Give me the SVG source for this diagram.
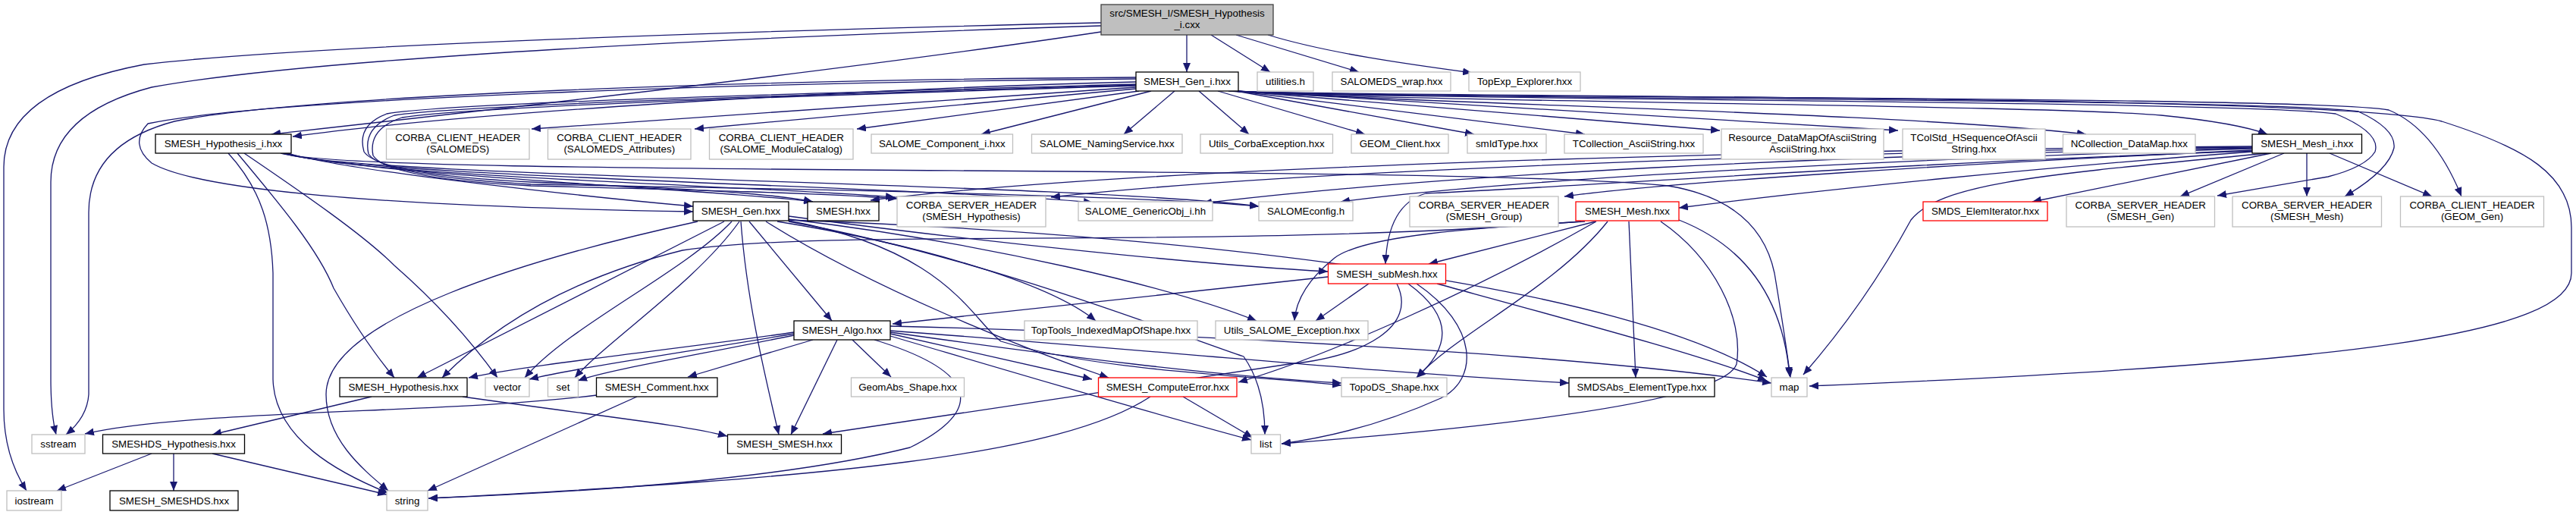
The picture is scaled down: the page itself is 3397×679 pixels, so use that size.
<svg xmlns="http://www.w3.org/2000/svg" width="3397" height="679" viewBox="0 0 3397 679">
<defs>
<marker id="arr" markerUnits="userSpaceOnUse" markerWidth="12" markerHeight="10" refX="12" refY="5" orient="auto"><path d="M0,0 L12,5 L0,10 z" fill="#191970"/></marker>
<style>
rect{stroke-width:1.3}
.doc rect{fill:#fff;stroke:#000}
.ext rect{fill:#fff;stroke:#bfbfbf}
.tr rect{fill:#fff;stroke:#ff0000}
.root rect{fill:#bfbfbf;stroke:#404040}
text{font-family:"Liberation Sans",Arial,sans-serif;font-size:13.33px;text-anchor:middle;fill:#000}
#edges path{fill:none;stroke:#191970;stroke-width:1.3;marker-end:url(#arr)}
</style>
</defs>
<rect width="3397" height="679" fill="#fff"/>
<g id="edges">
<path d="M1565,46 L1565,95"/>
<path d="M1597,46 L1675,95"/>
<path d="M1630,46 L1792,95"/>
<path d="M1672,46 C1750,70 1860,85 1941,96"/>
<path d="M1452,42 C1100,95 600,150 358,177"/>
<path d="M1452,30 C1000,40 400,60 190,85 Q5,120 5,220 L5,540 Q5,600 35,647"/>
<path d="M1452,34 C1000,48 420,75 200,115 Q67,150 67,240 L67,500 Q67,545 74,573"/>
<path d="M1498,108 C1100,118 600,150 386,180"/>
<path d="M1498,115 L701,170"/>
<path d="M1498,117 L916,170"/>
<path d="M1502,120 L1130,170"/>
<path d="M1518,120 L1294,177"/>
<path d="M1549,120 L1482,177"/>
<path d="M1581,120 L1647,177"/>
<path d="M1606,120 L1800,177"/>
<path d="M1630,120 L1944,177"/>
<path d="M1630,120 L2090,177"/>
<path d="M1630,120 L2268,172"/>
<path d="M1630,120 L2503,172"/>
<path d="M1630,120 C1900,138 2500,148 2751,177"/>
<path d="M1628,120 C1800,134 2700,138 2850,152 Q2950,162 2990,177"/>
<path d="M1626,120 C1800,132 2950,132 3080,150 Q3140,175 3132,200 Q3120,220 3070,233 L2924,258"/>
<path d="M1624,120 C1800,131 3000,129 3110,147 Q3160,170 3157,195 Q3150,225 3092,259"/>
<path d="M1622,120 C1800,130 3050,126 3150,145 Q3210,170 3246,259"/>
<path d="M1620,120 C1800,129 3080,123 3220,160 C3330,195 3391,230 3391,300 L3391,360 C3391,440 3100,480 2386,509"/>
<path d="M1498,102 C1000,105 400,125 230,160 Q117,190 117,280 L117,520 Q115,550 87,573"/>
<path d="M1498,104 C1000,108 350,130 195,163 Q170,190 200,215 C260,250 500,272 914,279"/>
<path d="M1498,111 C1100,122 600,135 510,150 Q470,165 480,200 Q500,230 700,240 C900,248 1020,255 1072,266"/>
<path d="M1498,113 C1100,125 620,140 530,155 Q485,170 492,205 Q510,235 700,245 C900,250 1100,255 1183,262"/>
<path d="M1498,112 C1100,124 610,138 520,152 Q478,168 486,203 Q505,232 700,243 C1100,250 1500,258 1660,272"/>
<path d="M380,202 C450,225 800,262 914,272"/>
<path d="M378,202 C470,230 950,250 1072,266"/>
<path d="M376,202 C470,232 1000,245 1180,260"/>
<path d="M374,202 C470,233 1200,245 1441,267"/>
<path d="M372,202 C470,234 1400,240 1660,272"/>
<path d="M370,202 C480,235 1900,215 2200,245 Q2320,265 2340,360 Q2355,450 2361,498"/>
<path d="M301,202 C345,250 358,300 360,360 L360,500 C362,580 450,625 512,650"/>
<path d="M313,202 C370,270 420,330 440,380 Q480,450 520,498"/>
<path d="M322,202 C400,255 480,310 520,350 Q600,420 656,498"/>
<path d="M2995,202 L2680,266"/>
<path d="M3012,202 L2875,259"/>
<path d="M3042,202 L3042,259"/>
<path d="M3072,202 L3207,259"/>
<path d="M2970,200 C2700,220 2400,250 2214,274"/>
<path d="M2970,198 C2600,215 2200,240 2063,259"/>
<path d="M2970,196 C2500,210 2000,235 1768,266"/>
<path d="M2970,195 C2400,205 1900,230 1586,268"/>
<path d="M2970,194 C2400,200 1700,225 1386,260"/>
<path d="M2970,193 C2300,198 1500,220 1148,264"/>
<path d="M2970,199 C2500,215 2100,245 1880,255 Q1830,270 1827,348"/>
<path d="M2990,202 C2700,230 2560,240 2520,290 Q2460,400 2378,494"/>
<path d="M2104,292 L1884,348"/>
<path d="M2090,292 C1950,300 1800,310 1760,340 Q1710,380 1707,423"/>
<path d="M2148,292 L2157,498"/>
<path d="M2214,290 C2290,320 2350,380 2360,496"/>
<path d="M2190,292 C2260,340 2300,420 2290,480 Q2270,540 1690,585"/>
<path d="M2120,292 C2050,380 1920,440 1868,498"/>
<path d="M2105,292 C1950,380 1750,470 1633,504"/>
<path d="M2085,292 C1600,330 1100,300 900,330 Q700,380 583,498"/>
<path d="M1805,374 L1735,423"/>
<path d="M1857,374 C1920,420 1910,460 1868,498"/>
<path d="M1868,374 C1950,430 1950,500 1900,525 Q1800,570 1690,585"/>
<path d="M1842,374 C1870,430 1800,470 1700,480 L1085,572"/>
<path d="M1895,374 C2100,430 2250,470 2330,502"/>
<path d="M1751,365 L1177,427"/>
<path d="M1072,448 L907,497"/>
<path d="M1104,448 L1043,573"/>
<path d="M1124,448 L1175,497"/>
<path d="M1153,448 C1290,490 1300,540 1200,590 Q1000,640 565,657"/>
<path d="M1174,440 L1440,500"/>
<path d="M1174,443 C1300,480 1500,540 1650,580"/>
<path d="M1174,436 C1500,460 1800,490 2069,505"/>
<path d="M1174,430 C1600,440 2100,470 2336,505"/>
<path d="M1174,438 C1400,470 1600,495 1769,505"/>
<path d="M1047,438 C900,460 700,480 618,498"/>
<path d="M1047,440 C900,465 760,485 698,500"/>
<path d="M1047,442 C920,468 800,488 762,502"/>
<path d="M977,292 C985,400 1010,500 1027,573"/>
<path d="M988,292 L1097,423"/>
<path d="M955,292 L550,498"/>
<path d="M965,292 C900,360 750,430 692,498"/>
<path d="M975,292 C920,370 800,450 758,498"/>
<path d="M920,292 C700,340 430,420 430,520 C430,580 480,620 512,647"/>
<path d="M1040,285 C1300,320 1600,350 1751,358"/>
<path d="M1040,289 C1300,320 1550,380 1657,423"/>
<path d="M1025,292 C1200,320 1380,370 1445,423"/>
<path d="M1010,292 C1150,380 1350,460 1462,498"/>
<path d="M1040,291 C1250,330 1280,420 1320,450 C1450,490 1650,495 1769,508"/>
<path d="M1040,290 C1600,310 2150,380 2330,497"/>
<path d="M1040,292 C1300,340 1550,440 1640,470 Q1668,510 1668,573"/>
<path d="M490,523 L280,573"/>
<path d="M610,523 C800,550 900,560 959,575"/>
<path d="M787,521 C600,545 250,540 112,572"/>
<path d="M840,523 L564,647"/>
<path d="M200,598 L75,647"/>
<path d="M229,598 L229,647"/>
<path d="M280,598 L510,652"/>
<path d="M1560,523 L1652,577"/>
<path d="M1517,523 C1400,600 1100,630 565,657"/>
</g>
<g id="n0" class="root"><rect x="1452" y="6" width="227" height="40"/><text x="1565.5" y="22">src/SMESH_I/SMESH_Hypothesis</text><text x="1565.5" y="37">_i.cxx</text></g>
<g id="n1" class="doc"><rect x="1498" y="95" width="135" height="25"/><text x="1565.5" y="112">SMESH_Gen_i.hxx</text></g>
<g id="n2" class="ext"><rect x="1658" y="95" width="74" height="25"/><text x="1695" y="112">utilities.h</text></g>
<g id="n3" class="ext"><rect x="1757" y="95" width="156" height="25"/><text x="1835" y="112">SALOMEDS_wrap.hxx</text></g>
<g id="n4" class="ext"><rect x="1937" y="95" width="147" height="25"/><text x="2010.5" y="112">TopExp_Explorer.hxx</text></g>
<g id="n5" class="doc"><rect x="205" y="177" width="179" height="25"/><text x="294.5" y="194">SMESH_Hypothesis_i.hxx</text></g>
<g id="n6" class="ext"><rect x="509.5" y="170" width="188.5" height="40"/><text x="603.75" y="186">CORBA_CLIENT_HEADER</text><text x="603.75" y="201">(SALOMEDS)</text></g>
<g id="n7" class="ext"><rect x="722.5" y="170" width="188.5" height="40"/><text x="816.75" y="186">CORBA_CLIENT_HEADER</text><text x="816.75" y="201">(SALOMEDS_Attributes)</text></g>
<g id="n8" class="ext"><rect x="935.5" y="170" width="189.5" height="40"/><text x="1030.25" y="186">CORBA_CLIENT_HEADER</text><text x="1030.25" y="201">(SALOME_ModuleCatalog)</text></g>
<g id="n9" class="ext"><rect x="1149" y="177" width="186.5" height="25"/><text x="1242.25" y="194">SALOME_Component_i.hxx</text></g>
<g id="n10" class="ext"><rect x="1360.5" y="177" width="198.5" height="25"/><text x="1459.75" y="194">SALOME_NamingService.hxx</text></g>
<g id="n11" class="ext"><rect x="1583" y="177" width="174.5" height="25"/><text x="1670.25" y="194">Utils_CorbaException.hxx</text></g>
<g id="n12" class="ext"><rect x="1782" y="177" width="128" height="25"/><text x="1846" y="194">GEOM_Client.hxx</text></g>
<g id="n13" class="ext"><rect x="1935" y="177" width="104" height="25"/><text x="1987" y="194">smIdType.hxx</text></g>
<g id="n14" class="ext"><rect x="2063" y="177" width="183" height="25"/><text x="2154.5" y="194">TCollection_AsciiString.hxx</text></g>
<g id="n15" class="ext"><rect x="2270" y="170" width="214" height="40"/><text x="2377" y="186">Resource_DataMapOfAsciiString</text><text x="2377" y="201">AsciiString.hxx</text></g>
<g id="n16" class="ext"><rect x="2509" y="170" width="188" height="40"/><text x="2603" y="186">TColStd_HSequenceOfAscii</text><text x="2603" y="201">String.hxx</text></g>
<g id="n17" class="ext"><rect x="2720.5" y="177" width="174.5" height="25"/><text x="2807.75" y="194">NCollection_DataMap.hxx</text></g>
<g id="n18" class="doc"><rect x="2970" y="177" width="144.5" height="25"/><text x="3042.25" y="194">SMESH_Mesh_i.hxx</text></g>
<g id="n19" class="doc"><rect x="914" y="266" width="126" height="25"/><text x="977" y="283">SMESH_Gen.hxx</text></g>
<g id="n20" class="doc"><rect x="1065" y="266" width="94" height="25"/><text x="1112" y="283">SMESH.hxx</text></g>
<g id="n21" class="ext"><rect x="1183" y="259" width="196" height="40"/><text x="1281" y="275">CORBA_SERVER_HEADER</text><text x="1281" y="290">(SMESH_Hypothesis)</text></g>
<g id="n22" class="ext"><rect x="1422" y="266" width="177" height="25"/><text x="1510.5" y="283">SALOME_GenericObj_i.hh</text></g>
<g id="n23" class="ext"><rect x="1660" y="266" width="124" height="25"/><text x="1722" y="283">SALOMEconfig.h</text></g>
<g id="n24" class="ext"><rect x="1859" y="259" width="196" height="40"/><text x="1957" y="275">CORBA_SERVER_HEADER</text><text x="1957" y="290">(SMESH_Group)</text></g>
<g id="n25" class="tr"><rect x="2078" y="266" width="136" height="25"/><text x="2146" y="283">SMESH_Mesh.hxx</text></g>
<g id="n26" class="tr"><rect x="2536" y="266" width="164" height="25"/><text x="2618" y="283">SMDS_ElemIterator.hxx</text></g>
<g id="n27" class="ext"><rect x="2725" y="259" width="195.5" height="40"/><text x="2822.75" y="275">CORBA_SERVER_HEADER</text><text x="2822.75" y="290">(SMESH_Gen)</text></g>
<g id="n28" class="ext"><rect x="2944" y="259" width="196.5" height="40"/><text x="3042.25" y="275">CORBA_SERVER_HEADER</text><text x="3042.25" y="290">(SMESH_Mesh)</text></g>
<g id="n29" class="ext"><rect x="3165.5" y="259" width="189" height="40"/><text x="3260" y="275">CORBA_CLIENT_HEADER</text><text x="3260" y="290">(GEOM_Gen)</text></g>
<g id="n30" class="tr"><rect x="1751.5" y="348" width="155" height="26"/><text x="1829" y="366">SMESH_subMesh.hxx</text></g>
<g id="n31" class="doc"><rect x="1047" y="423" width="127" height="25"/><text x="1110.5" y="440">SMESH_Algo.hxx</text></g>
<g id="n32" class="ext"><rect x="1351" y="423" width="228" height="25"/><text x="1465" y="440">TopTools_IndexedMapOfShape.hxx</text></g>
<g id="n33" class="ext"><rect x="1603" y="423" width="201" height="25"/><text x="1703.5" y="440">Utils_SALOME_Exception.hxx</text></g>
<g id="n34" class="doc"><rect x="448" y="498" width="168" height="25"/><text x="532" y="515">SMESH_Hypothesis.hxx</text></g>
<g id="n35" class="ext"><rect x="640" y="498" width="58" height="25"/><text x="669" y="515">vector</text></g>
<g id="n36" class="ext"><rect x="722.5" y="498" width="40" height="25"/><text x="742.5" y="515">set</text></g>
<g id="n37" class="doc"><rect x="786.5" y="498" width="159.5" height="25"/><text x="866.25" y="515">SMESH_Comment.hxx</text></g>
<g id="n38" class="ext"><rect x="1122.5" y="498" width="149" height="25"/><text x="1197" y="515">GeomAbs_Shape.hxx</text></g>
<g id="n39" class="tr"><rect x="1448.5" y="498" width="182.5" height="25"/><text x="1539.75" y="515">SMESH_ComputeError.hxx</text></g>
<g id="n40" class="ext"><rect x="1769" y="498" width="139" height="25"/><text x="1838.5" y="515">TopoDS_Shape.hxx</text></g>
<g id="n41" class="doc"><rect x="2069" y="498" width="192" height="25"/><text x="2165" y="515">SMDSAbs_ElementType.hxx</text></g>
<g id="n42" class="ext"><rect x="2336" y="498" width="47" height="25"/><text x="2359.5" y="515">map</text></g>
<g id="n43" class="ext"><rect x="42" y="573" width="70" height="25"/><text x="77" y="590">sstream</text></g>
<g id="n44" class="doc"><rect x="135.5" y="573" width="187" height="25"/><text x="229" y="590">SMESHDS_Hypothesis.hxx</text></g>
<g id="n45" class="doc"><rect x="959.5" y="573" width="150" height="25"/><text x="1034.5" y="590">SMESH_SMESH.hxx</text></g>
<g id="n46" class="ext"><rect x="1650" y="573" width="38.5" height="25"/><text x="1669.25" y="590">list</text></g>
<g id="n47" class="ext"><rect x="9" y="647" width="72" height="26"/><text x="45" y="665">iostream</text></g>
<g id="n48" class="doc"><rect x="145" y="647" width="169" height="26"/><text x="229.5" y="665">SMESH_SMESHDS.hxx</text></g>
<g id="n49" class="ext"><rect x="510" y="647" width="54" height="26"/><text x="537" y="665">string</text></g>
</svg>
